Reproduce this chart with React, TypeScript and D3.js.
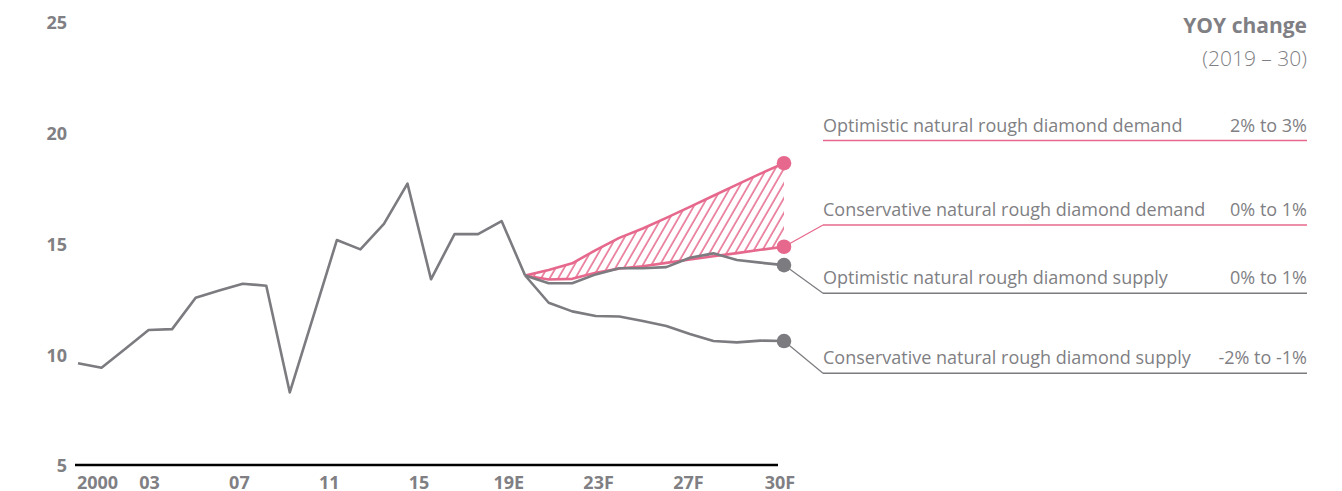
import React from 'react';
import * as d3 from 'd3';

// --- DATA ---
const histYears = d3.range(2000, 2020);
const histValues = [9.64, 9.44, 10.28, 11.14, 11.18, 12.6, 12.92, 13.23, 13.14, 8.32, 11.75, 15.2, 14.78, 15.93, 17.75, 13.43, 15.47, 15.47, 16.06, 13.6];

const fcYears = d3.range(2019, 2031);
const optDemand = [13.6, 13.85, 14.15, 14.75, 15.3, 15.72, 16.2, 16.7, 17.2, 17.7, 18.2, 18.67];
const consDemand = [13.6, 13.42, 13.45, 13.72, 13.92, 14.02, 14.17, 14.32, 14.47, 14.61, 14.76, 14.9];
const optSupply = [13.6, 13.25, 13.25, 13.65, 13.93, 13.93, 13.98, 14.4, 14.6, 14.3, 14.18, 14.07];
const consSupply = [13.6, 12.37, 11.98, 11.77, 11.75, 11.55, 11.32, 10.96, 10.64, 10.58, 10.66, 10.64];

const yTicks = [5, 10, 15, 20, 25];
const xTickYears = [2000, 2003, 2007, 2011, 2015, 2019, 2023, 2027, 2030];
const xTickLabels = ['2000', '03', '07', '11', '15', '19E', '23F', '27F', '30F'];

const legendNames = [
    'Optimistic natural rough diamond demand',
    'Conservative natural rough diamond demand',
    'Optimistic natural rough diamond supply',
    'Conservative natural rough diamond supply',
];
const legendRanges = ['2% to 3%', '0% to 1%', '0% to 1%', '-2% to -1%'];

const PINK = '#e6688c';
const GREY = '#7b7b80';
const TEXT = '#7f7f84';
const FONT = "'Open Sans', 'DejaVu Sans', sans-serif";

const W = 1342;
const H = 491;

const App = () => {
    const x = d3.scaleLinear().domain([2000, 2030]).range([78, 784]);
    const y = d3.scaleLinear().domain([5, 25]).range([466, 23]);
    // tick labels sit a little left of their years in the original
    const xLabel = d3.scaleLinear().domain([2000, 2003, 2027, 2030]).range([x(2000) + 19.5, x(2003) + 1, x(2027) - 25, x(2030) - 4]);

    const line = d3.line<number>()
        .x((_, i) => x(fcYears[i]))
        .y(d => y(d));

    const histLine = d3.line<number>()
        .x((_, i) => x(histYears[i]))
        .y(d => y(d));

    const band = d3.area<number>()
        .x((_, i) => x(fcYears[i]))
        .y0((_, i) => y(consDemand[i]))
        .y1(d => y(d));

    const last = fcYears.length - 1;
    const legendX = 823;
    const legendRight = 1307;
    const rowBase = [131.7, 216, 284, 364];
    const rowUnder = [140.5, 225, 293.3, 373.3];
    const rowColor = [PINK, PINK, GREY, GREY];
    const rowSeries = [optDemand, consDemand, optSupply, consSupply];

    return (
        <svg width={W} height={H} style={{ display: 'block' }}>
            <style>{`body{margin:0}`}</style>
            <defs>
                <pattern id="hatch" patternUnits="userSpaceOnUse" width="7.4" height="7.4" patternTransform="rotate(30)">
                    <line x1="1" y1="0" x2="1" y2="7.4" stroke={PINK} strokeWidth="1.5" />
                </pattern>
            </defs>

            {/* y tick labels */}
            {yTicks.map(t => (
                <text key={t} x={67} y={y(t)} dy="0.36em" textAnchor="end" fill={TEXT}
                    fontFamily={FONT} fontWeight={700} fontSize={18}>{t}</text>
            ))}

            {/* baseline */}
            <line x1={x(2000) - 3} x2={x(2030) - 6} y1={465} y2={465} stroke="#000" strokeWidth={2.6} />

            {/* x tick labels */}
            {xTickYears.map((yr, i) => (
                <text key={yr} x={xLabel(yr)} y={489} textAnchor="middle" fill={TEXT}
                    fontFamily={FONT} fontWeight={700} fontSize={18}>{xTickLabels[i]}</text>
            ))}

            {/* demand range band */}
            <path d={band(optDemand) || ''} fill="url(#hatch)" />
            <path d={line(optDemand) || ''} fill="none" stroke={PINK} strokeWidth={2.6} strokeLinejoin="round" />
            <path d={line(consDemand) || ''} fill="none" stroke={PINK} strokeWidth={2.6} strokeLinejoin="round" />

            {/* history + supply */}
            <path d={histLine(histValues) || ''} fill="none" stroke={GREY} strokeWidth={2.6} strokeLinejoin="round" />
            <path d={line(optSupply) || ''} fill="none" stroke={GREY} strokeWidth={2.6} strokeLinejoin="round" />
            <path d={line(consSupply) || ''} fill="none" stroke={GREY} strokeWidth={2.6} strokeLinejoin="round" />

            {/* connectors */}
            {rowSeries.map((s, i) => i === 0 ? null : (
                <line key={'c' + i} x1={x(fcYears[last])} y1={y(s[last])} x2={legendX} y2={rowUnder[i]}
                    stroke={rowColor[i]} strokeWidth={1.2} />
            ))}

            {/* end dots */}
            {rowSeries.map((s, i) => (
                <circle key={'d' + i} cx={x(fcYears[last])} cy={y(s[last])} r={7.3} fill={rowColor[i]} />
            ))}

            {/* legend */}
            <text x={legendRight} y={33} textAnchor="end" fill={TEXT} fontFamily={FONT} fontWeight={700} fontSize={21}>YOY change</text>
            <text x={legendRight} y={66} textAnchor="end" fill={TEXT} fontFamily={FONT} fontWeight={300} fontSize={21}>(2019 – 30)</text>
            {legendNames.map((name, i) => (
                <g key={name}>
                    <text x={legendX} y={rowBase[i]} fill={TEXT} fontFamily={FONT} fontWeight={400} fontSize={18}>{name}</text>
                    <text x={legendRight} y={rowBase[i]} textAnchor="end" fill={TEXT} fontFamily={FONT} fontWeight={400} fontSize={18}>{legendRanges[i]}</text>
                    <line x1={legendX} x2={legendRight} y1={rowUnder[i]} y2={rowUnder[i]} stroke={rowColor[i]} strokeWidth={1.6} />
                </g>
            ))}
        </svg>
    );
};

export default App;
